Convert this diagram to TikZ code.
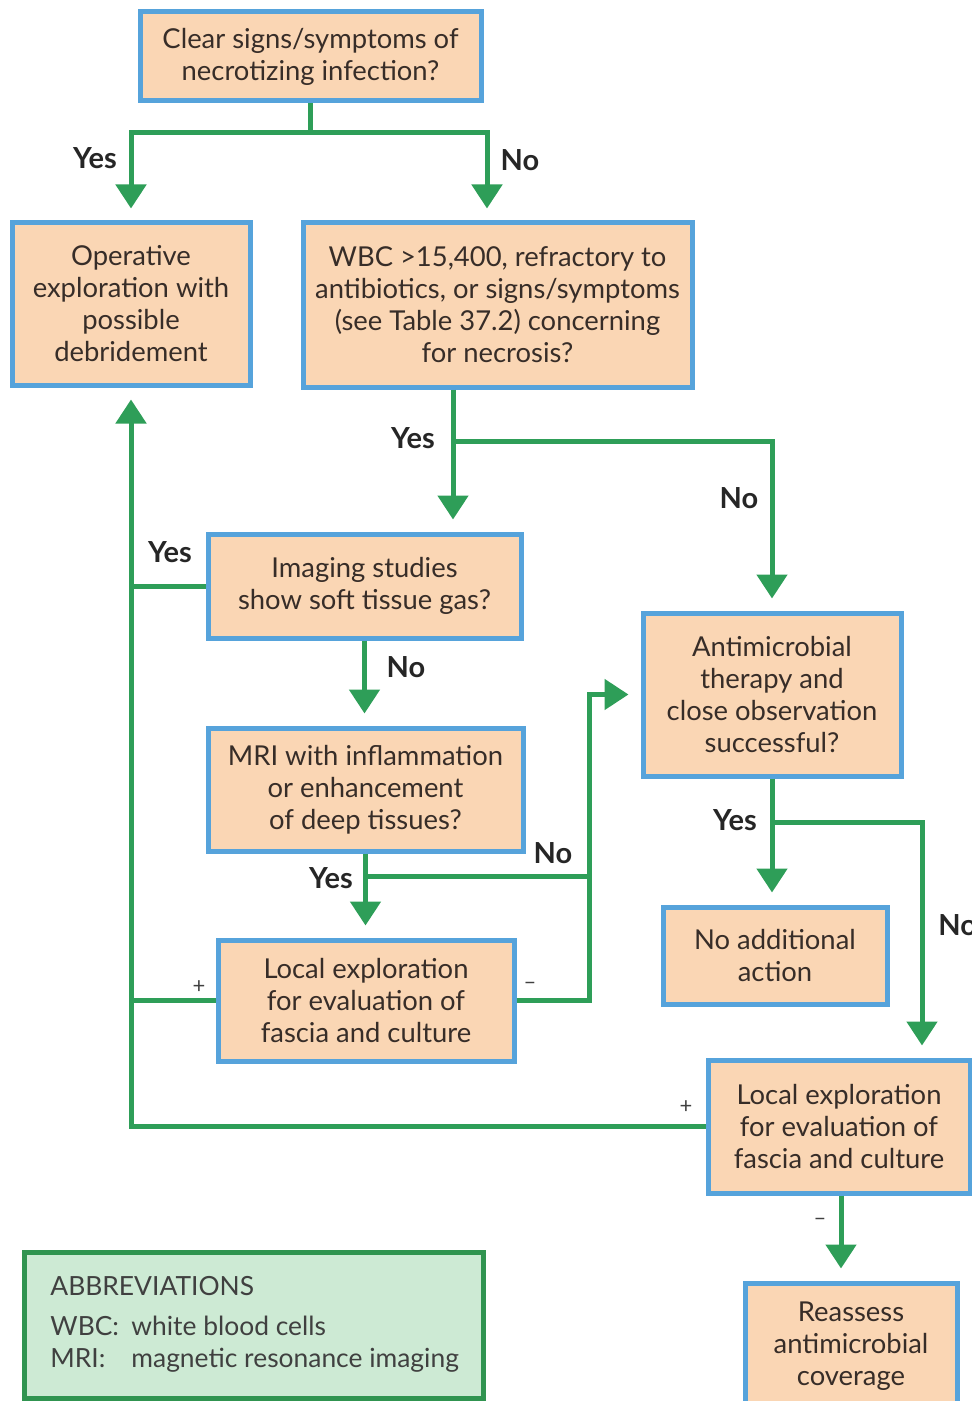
\documentclass[tikz,border=0pt]{standalone}
\usepackage{fontspec}
\setmainfont{Lato}
\usetikzlibrary{arrows.meta,calc}
\definecolor{peach}{RGB}{250,214,180}
\definecolor{bblue}{RGB}{86,163,219}
\definecolor{lgreen}{RGB}{46,158,88}
\definecolor{abfill}{RGB}{205,234,212}
\definecolor{abline}{RGB}{48,148,80}
\definecolor{txt}{RGB}{55,45,40}
\begin{document}
\begin{tikzpicture}[x=0.5pt,y=-0.5pt,
  box/.style={draw=bblue,fill=peach,line width=2.5pt,align=center,text=txt,
    font=\fontsize{13.7}{16}\selectfont,inner sep=0pt},
  ln/.style={draw=lgreen,line width=2.5pt},
  arr/.style={ln,-{Triangle[width=15pt,length=12pt]},shorten >=6pt},
  lab/.style={font=\fontsize{14.5}{16}\selectfont\bfseries,text=black!85},
  pm/.style={font=\fontsize{11}{12}\selectfont,text=black!75}]
\useasboundingbox (0,0) rectangle (972,1401);
% boxes
\node[box,minimum width=170.5pt,minimum height=44.5pt] (top) at (310.5,56.5)
  {Clear signs/symptoms of\\necrotizing infection?};
\node[box,minimum width=119pt,minimum height=81pt] (op) at (131,304)
  {Operative\\exploration with\\possible\\debridement};
\node[box,minimum width=194.5pt,minimum height=82pt] (wbc) at (497.5,305)
  {WBC >15,400, refractory to\\antibiotics, or signs/symptoms\\(see Table 37.2) concerning\\for necrosis?};
\node[box,minimum width=156.5pt,minimum height=52pt] (img) at (364.5,586)
  {Imaging studies\\show soft tissue gas?};
\node[box,minimum width=129pt,minimum height=81.5pt] (anti) at (772,694.5)
  {Antimicrobial\\therapy and\\close observation\\successful?};
\node[box,minimum width=157.5pt,minimum height=61.5pt] (mri) at (365.5,789.5)
  {MRI with inflammation\\or enhancement\\of deep tissues?};
\node[box,minimum width=112pt,minimum height=48.5pt] (noadd) at (775,955.5)
  {No additional\\action};
\node[box,minimum width=148pt,minimum height=60.5pt] (loc1) at (366,1000.5)
  {Local exploration\\for evaluation of\\fascia and culture};
\node[box,minimum width=131pt,minimum height=66.5pt] (loc2) at (839,1126.5)
  {Local exploration\\for evaluation of\\fascia and culture};
\node[box,minimum width=106pt,minimum height=63.5pt] (reas) at (851,1346.5)
  {Reassess\\antimicrobial\\coverage};
\node[draw=abline,fill=abfill,line width=2.5pt,minimum width=229.5pt,minimum height=73pt,
  inner sep=0pt] (abbr) at (253.5,1325) {};
\node[anchor=north west,text=black!75,font=\fontsize{13.2}{16}\selectfont,align=left,inner sep=0pt] (abtxt) at (50,1276)
  {ABBREVIATIONS\\[4pt]\makebox[40.5pt][l]{WBC:}white blood cells\\\makebox[40.5pt][l]{MRI:}magnetic resonance imaging};
% connectors
\draw[ln] (top.south) -- (top.south |- 0,133) coordinate (j1);
\draw[arr] (j1) -| (op.north);
\draw[arr] (j1) -| ([xshift=-5.25pt]wbc.north);
\draw[arr] ([xshift=-22.25pt]wbc.south) -- ([xshift=-22.25pt]wbc.south |- img.north);
\coordinate (j2) at ([xshift=-22.25pt]wbc.south |- 0,441);
\draw[arr] (j2) -| (anti.north);
\draw[arr] (img.south) -- (img.south |- mri.north);
\draw[ln] (img.west) -- (img.west -| op.south);
\draw[ln] (loc1.west) -- (loc1.west -| op.south);
\draw[arr] (loc2.west) -| (op.south);
\draw[arr] (mri.south) -- (mri.south |- loc1.north);
\coordinate (m1) at (587,876);
\draw[ln] (mri.south |- m1) -- (m1);
\draw[arr] (loc1.east) -- ++(73,0) |- (anti.west);
\draw[arr] (anti.south) -- (anti.south |- noadd.north);
\coordinate (j3) at (anti.south |- 0,822);
\draw[arr] (j3) -| ([xshift=41.5pt]loc2.north);
\draw[arr] ([xshift=1pt]loc2.south) -- ([xshift=1pt]loc2.south |- reas.north);
% labels
\node[lab] (l1) at (95,158) {Yes};
\node[lab] (l2) at (520,160) {No};
\node[lab] (l3) at (413,438) {Yes};
\node[lab] (l4) at (739,498) {No};
\node[lab] (l5) at (170,552) {Yes};
\node[lab] (l6) at (406,667) {No};
\node[lab] (l7) at (553,853) {No};
\node[lab] (l8) at (331,878) {Yes};
\node[lab] (l9) at (735,820) {Yes};
\node[lab,anchor=west,inner sep=0pt] (l10) at (938,925) {No};
\node[pm] (p1) at (199,987) {+};
\node[pm] (p2) at (530,986) {–};
\node[pm] (p3) at (686,1107) {+};
\node[pm] (p4) at (820,1222) {–};
\end{tikzpicture}
\end{document}
